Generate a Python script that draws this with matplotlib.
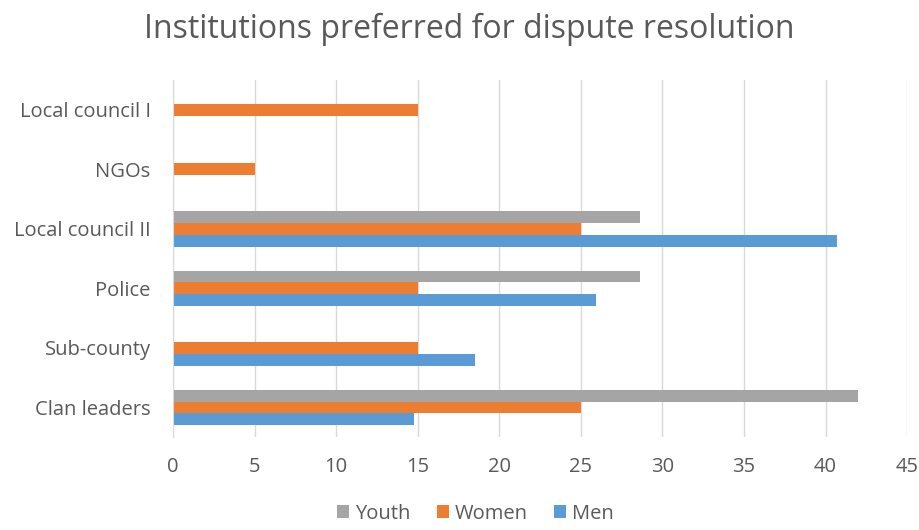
import matplotlib.pyplot as plt
import numpy as np

plt.rcParams["font.family"] = ["Open Sans", "DejaVu Sans"]

categories = ["Clan leaders", "Sub-county", "Police", "Local council II", "NGOs", "Local council I"]
men = [14.8, 18.5, 25.9, 40.7, 0, 0]
women = [25, 15, 15, 25, 5, 15]
youth = [42, 0, 28.6, 28.6, 0, 0]

c_men = "#5b9bd5"
c_women = "#ed7d31"
c_youth = "#a5a5a5"
txt = "#595959"

fig = plt.figure(figsize=(9.2, 5.3), dpi=100)
ax = fig.add_axes([0.188, 0.175, 0.798, 0.674])

y = np.arange(len(categories))
h = 0.2
ax.barh(y - h, men, height=h, color=c_men, label="Men")
ax.barh(y, women, height=h, color=c_women, label="Women")
ax.barh(y + h, youth, height=h, color=c_youth, label="Youth")

ax.set_xlim(0, 45)
ax.set_ylim(-0.5, len(categories) - 0.5)
ax.set_xticks(range(0, 46, 5))
ax.set_yticks(y)
ax.set_yticklabels(categories)
ax.tick_params(length=0, labelsize=14.5, colors=txt)
ax.tick_params(axis="x", pad=14)
ax.tick_params(axis="y", pad=16)
ax.grid(axis="x", color="#d9d9d9", linewidth=1)
ax.set_axisbelow(True)
for s in ["top", "right", "bottom"]:
    ax.spines[s].set_visible(False)
ax.spines["left"].set_color("#d9d9d9")

fig.suptitle("Institutions preferred for dispute resolution", x=0.51, y=0.975, fontsize=23, color=txt)

handles, labels = ax.get_legend_handles_labels()
fig.legend(handles[::-1], labels[::-1], loc="lower center", bbox_to_anchor=(0.517, -0.022),
           ncol=3, frameon=False, fontsize=14.5, labelcolor=txt,
           handlelength=0.6, handleheight=0.6, handletextpad=0.3, columnspacing=1.3)

fig.savefig("out.png", dpi=100)
